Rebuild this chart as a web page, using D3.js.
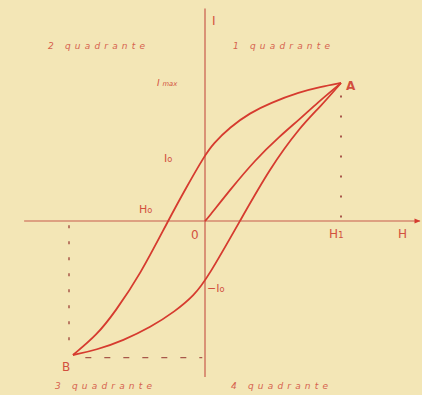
<!DOCTYPE html>
<html>
<head>
<meta charset="utf-8">
<script src="https://cdn.jsdelivr.net/npm/d3@7"></script>
<style>
  html, body { margin: 0; padding: 0; background: #f3e6b6; }
  svg { display: block; }
  text { font-family: "DejaVu Sans", sans-serif; }
</style>
</head>
<body>
<div id="chart"></div>
<script>
// Hysteresis loop, H on x, I on y (H1 = 1, Imax = 1)
const upperBranch = [
  [1.0, 1.0], [0.846, 0.971], [0.699, 0.935], [0.478, 0.855], [0.331, 0.783],
  [0.184, 0.681], [0.06, 0.56], [0, 0.478], [-0.14, 0.239], [-0.272, 0], [-0.478, -0.391],
  [-0.662, -0.659], [-0.794, -0.826], [-0.971, -0.971],
];
const lowerBranch = [
  [-0.971, -0.971], [-0.8, -0.935], [-0.6, -0.865], [-0.4, -0.77], [-0.22, -0.655],
  [-0.08, -0.54], [0.02, -0.41], [0.257, 0], [0.478, 0.384], [0.699, 0.681],
  [0.846, 0.826], [1.0, 1.0],
];
const initialCurve = [
  [0, 0], [0.02, 0.02], [0.184, 0.225], [0.368, 0.442], [0.551, 0.616], [0.699, 0.74], [0.824, 0.855], [1.0, 1.0],
];
const quadrantLabels = ["1 quadrante", "2 quadrante", "3 quadrante", "4 quadrante"];

const width = 422, height = 395;
const RED = "#d63b2f";
const AXIS = "#c85a4c";
const TEXT = "#d2503e";

const svg = d3.select("#chart").append("svg")
  .attr("width", width).attr("height", height);

svg.append("rect").attr("width", width).attr("height", height).attr("fill", "#f3e6b6");

const x = d3.scaleLinear().domain([0, 1]).range([205, 341]);
const y = d3.scaleLinear().domain([0, 1]).range([221, 83]);

// Arrow for H axis
svg.append("defs").append("marker")
  .attr("id", "arrow")
  .attr("viewBox", "0 -5 10 10")
  .attr("refX", 9).attr("refY", 0)
  .attr("markerWidth", 7).attr("markerHeight", 5)
  .attr("orient", "auto")
  .append("path")
  .attr("d", "M0,-4L10,0L0,4")
  .attr("fill", RED);

// axes
svg.append("line")
  .attr("x1", x(-1.33)).attr("x2", x(1.58))
  .attr("y1", y(0)).attr("y2", y(0))
  .attr("stroke", AXIS).attr("stroke-width", 1.2)
  .attr("marker-end", "url(#arrow)");
svg.append("line")
  .attr("x1", x(0)).attr("x2", x(0))
  .attr("y1", y(1.54)).attr("y2", y(-1.13))
  .attr("stroke", AXIS).attr("stroke-width", 1.2);

// guide lines
const guide = svg.append("g").attr("fill", "none").attr("stroke", "#a8584a");
guide.append("line")
  .attr("x1", x(1)).attr("x2", x(1)).attr("y1", y(0.91)).attr("y2", y(0.02))
  .attr("stroke-width", 2).attr("stroke-dasharray", "2 18");
guide.append("line")
  .attr("x1", x(-1.0)).attr("x2", x(-1.0)).attr("y1", y(-0.03)).attr("y2", y(-0.9))
  .attr("stroke-width", 1.5).attr("stroke-dasharray", "3 13");
guide.append("line")
  .attr("x1", x(-0.88)).attr("x2", x(-0.02)).attr("y1", y(-0.99)).attr("y2", y(-0.99))
  .attr("stroke-width", 1.3).attr("stroke-dasharray", "6 13");

// curves
const line = d3.line()
  .x(d => x(d[0])).y(d => y(d[1]))
  .curve(d3.curveBasis);

svg.append("g")
  .selectAll("path")
  .data([upperBranch, lowerBranch, initialCurve])
  .join("path")
  .attr("d", line)
  .attr("fill", "none")
  .attr("stroke", RED)
  .attr("stroke-width", 1.8);

// labels
function label(txt, px, py, opts = {}) {
  const t = svg.append("text")
    .attr("x", px).attr("y", py)
    .attr("fill", opts.fill || TEXT)
    .attr("font-size", opts.size || 11)
    .attr("font-style", opts.italic ? "italic" : null)
    .attr("font-weight", opts.bold ? "bold" : null);
  if (opts.len) t.attr("textLength", opts.len).attr("lengthAdjust", "spacing");
  if (opts.sub) {
    t.append("tspan").text(txt);
    t.append("tspan").attr("font-size", (opts.size || 11) * 0.75).text(opts.sub);
  } else {
    t.text(txt);
  }
  return t;
}

const qStyle = { size: 9, italic: true, len: 97, fill: "#d6624e" };
label(quadrantLabels[1], 48, 49, qStyle);
label(quadrantLabels[0], 233, 49, qStyle);
label(quadrantLabels[2], 55, 389, qStyle);
label(quadrantLabels[3], 231, 389, qStyle);

label("I", 212, 25, { size: 12 });
label("I ", 157, 86, { size: 9, sub: "max", italic: true });
label("A", 346, 90, { size: 12, bold: true });
label("I", 164, 162, { size: 11, sub: "o" });
label("H", 139, 213, { size: 11, sub: "o" });
label("0", 191, 239, { size: 12 });
label("H", 329, 238, { size: 12, sub: "1" });
label("H", 398, 238, { size: 12 });
label("−I", 207, 292, { size: 11, sub: "o" });
label("B", 62, 371, { size: 12 });
</script>
</body>
</html>
